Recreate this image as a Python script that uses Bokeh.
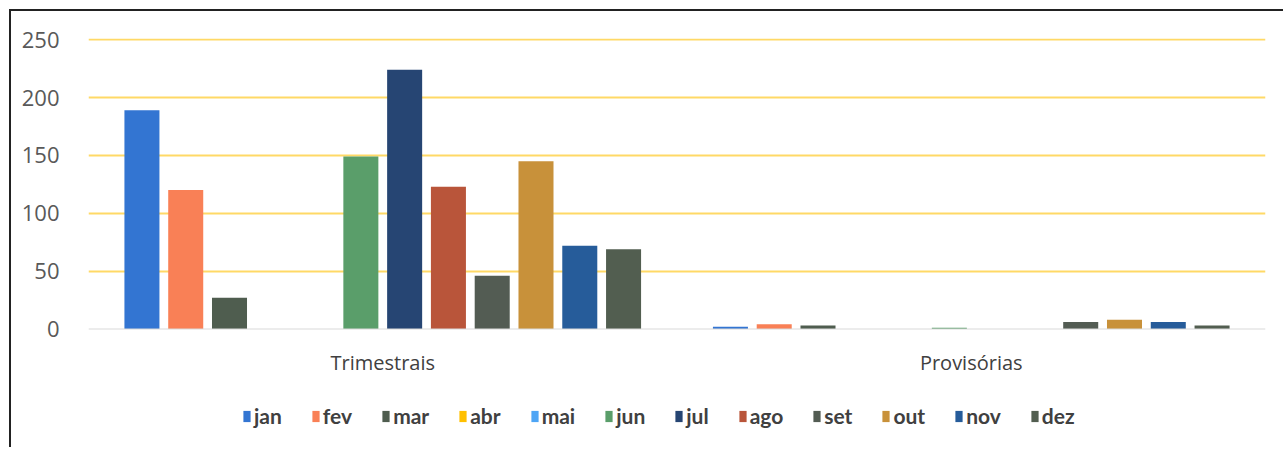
from bokeh.plotting import figure
from bokeh.models import ColumnDataSource, FactorRange, Range1d, FixedTicker, Legend, Span
from bokeh.core.properties import value
from bokeh.transform import dodge
from bokeh.embed import file_html
from bokeh.resources import INLINE

categories = ["Trimestrais", "Provisórias"]
months = ["jan", "fev", "mar", "abr", "mai", "jun", "jul", "ago", "set", "out", "nov", "dez"]
trimestrais = [189, 120, 27, 0, 0, 149, 224, 123, 46, 145, 72, 69]
provisorias = [2, 4, 3, 0, 0, 1, 0, 0, 6, 8, 6, 3]
colors = ["#3375D2", "#F98056", "#4F5D4F", "#FFC000", "#4EA5F5", "#5A9E6A",
          "#264573", "#B9553A", "#535C53", "#C8913A", "#265C9A", "#525E50"]
y_ticks = [0, 50, 100, 150, 200, 250]

# layout (pixels)
frame_w, frame_h = 1177, 409
px_top = 290.5          # pixels from frame top down to value 0
y_top = 251.0
scale = px_top / y_top  # px per unit
y_bottom = -(frame_h - px_top) / scale

p = figure(frame_width=frame_w, frame_height=frame_h, output_backend="svg", toolbar_location=None,
           x_range=FactorRange(*categories, range_padding=0),
           y_range=Range1d(y_bottom, y_top), x_axis_location=None,
           min_border_left=77, min_border_right=18, min_border_top=27, min_border_bottom=0)
p.x_range.range_padding = 0

step = 0.0744
bw = 0.0595
items = []
for i, m in enumerate(months):
    src = ColumnDataSource(dict(cat=categories, val=[trimestrais[i], provisorias[i]]))
    r = p.vbar(x=dodge("cat", (i - 5.5) * step, range=p.x_range), top="val", width=bw,
               source=src, fill_color=colors[i], line_color=None)
    items.append((m, [r]))

# baseline at zero
p.add_layout(Span(location=0, dimension="width", line_color="#D9D9D9", line_width=1))

# category labels under the baseline
lab_src = ColumnDataSource(dict(cat=categories, y=[-33.5 / scale] * len(categories)))
p.text(x="cat", y="y", text="cat", source=lab_src, text_align="center", text_baseline="middle",
       text_font=value("Open Sans"), text_font_size=value("20px"), text_color="#404040")

legend = Legend(items=items, orientation="horizontal", location=(154, 19))
legend.border_line_color = None
legend.background_fill_alpha = 0
legend.label_text_font = "Lato"
legend.label_text_font_style = "bold"
legend.label_text_font_size = "21px"
legend.label_text_color = "#404040"
legend.glyph_width = 9
legend.glyph_height = 14
legend.label_standoff = 3
legend.spacing = 29
legend.margin = 0
legend.padding = 0
p.add_layout(legend, "center")

p.outline_line_color = None
p.xgrid.grid_line_color = None
p.ygrid.ticker = FixedTicker(ticks=y_ticks[1:])
p.ygrid.grid_line_color = "#FFD966"
p.ygrid.grid_line_width = 2

p.yaxis.ticker = FixedTicker(ticks=y_ticks)
p.yaxis.axis_line_color = None
p.yaxis.major_tick_line_color = None
p.yaxis.minor_tick_line_color = None
p.yaxis.major_label_text_font = "Open Sans"
p.yaxis.major_label_text_font_size = "22px"
p.yaxis.major_label_text_color = "#595959"
p.yaxis.major_label_standoff = 23

p.styles = {"margin-left": "9px", "margin-top": "9px",
            "border-left": "2px solid #222", "border-top": "2px solid #222"}

open("out.html", "w").write(file_html(p, INLINE))
